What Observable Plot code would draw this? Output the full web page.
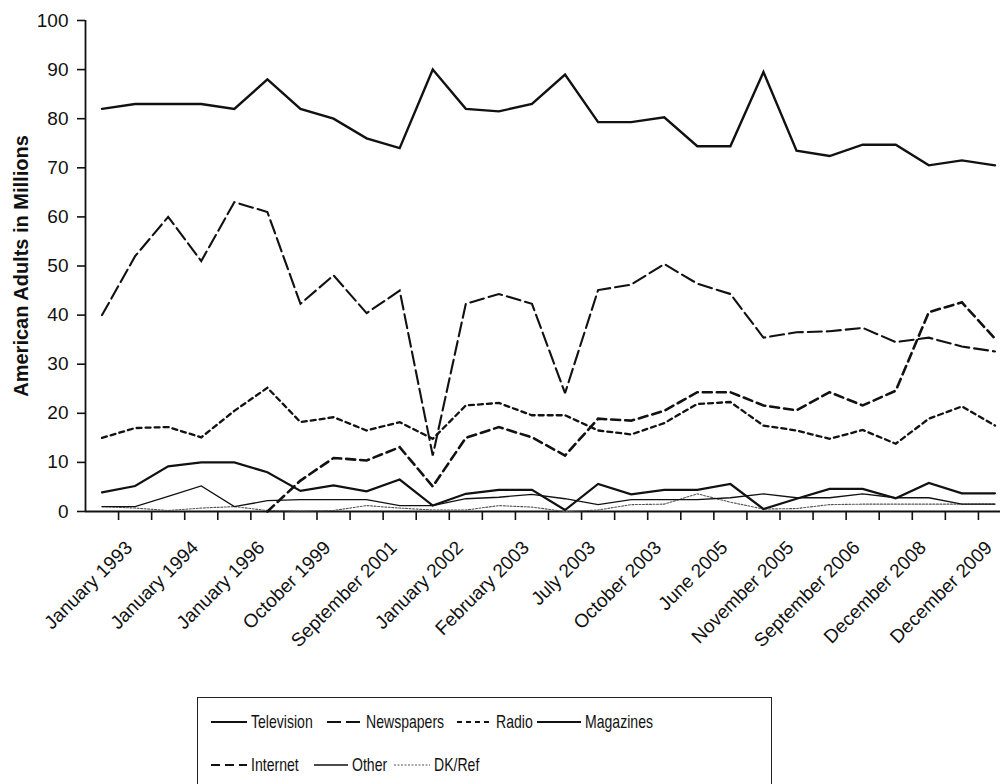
<!DOCTYPE html>
<html><head><meta charset="utf-8">
<script src="https://cdn.jsdelivr.net/npm/d3@7"></script>
<script src="https://cdn.jsdelivr.net/npm/@observablehq/plot@0.6"></script>
<style>
html,body{margin:0;padding:0;background:#fff;overflow:hidden;width:1000px;height:784px;}
#chart{position:absolute;left:0;top:0;}
#legend{position:absolute;left:197px;top:697px;width:575px;height:96px;border:1.6px solid #222;box-sizing:border-box;
  font-family:"Liberation Sans",Arial,sans-serif;font-size:18.5px;color:#111;}
.item{position:absolute;display:flex;align-items:center;height:22px;white-space:nowrap;}
.item svg{display:block;margin-right:4px;}
.item span{display:inline-block;transform:scaleX(0.76);transform-origin:0 50%;}
</style></head><body>
<div id="chart"></div><div id="legend"></div>
<script>
// Survey dates (only every other one is labelled on the axis)
const surveys = ["", "January 1993", "", "January 1994", "", "January 1996", "", "October 1999",
  "", "September 2001", "", "January 2002", "", "February 2003", "", "July 2003", "", "October 2003",
  "", "June 2005", "", "November 2005", "", "September 2006", "", "December 2008", "", "December 2009"];
const surveyIndex = [0,1,2,3,4,5,6,7,8,9,10,11,12,13,14,15,16,17,18,19,20,21,22,23,24,25,26,27];
const yTicks = [0,10,20,30,40,50,60,70,80,90,100];

const television = [82, 83, 83, 83, 82, 88, 82, 80, 76, 74, 90, 82, 81.5, 83, 89, 79.3, 79.3, 80.3, 74.4, 74.4, 89.5, 73.5, 72.4, 74.7, 74.7, 70.5, 71.5, 70.5];
const newspapers = [40, 52, 60, 51, 63, 61, 42.3, 48.1, 40.4, 45, 11.4, 42.3, 44.3, 42.3, 24.1, 45.1, 46.2, 50.4, 46.4, 44.3, 35.4, 36.5, 36.7, 37.4, 34.5, 35.4, 33.6, 32.6];
const radio = [15, 17, 17.2, 15.1, 20.5, 25.2, 18.2, 19.2, 16.5, 18.2, 14.8, 21.6, 22.1, 19.6, 19.6, 16.5, 15.7, 18, 21.9, 22.3, 17.5, 16.5, 14.8, 16.6, 13.8, 18.9, 21.4, 17.5];
const magazines = [3.9, 5.2, 9.2, 10, 10, 8, 4.2, 5.3, 4.1, 6.5, 1.2, 3.6, 4.4, 4.4, 0.3, 5.6, 3.5, 4.4, 4.4, 5.6, 0.5, 2.6, 4.6, 4.6, 2.7, 5.8, 3.7, 3.7];
const internet = [null, null, null, null, null, 0, 6.3, 10.9, 10.4, 13.1, 5.1, 15, 17.2, 15.1, 11.4, 18.9, 18.5, 20.5, 24.3, 24.3, 21.6, 20.6, 24.3, 21.6, 24.6, 40.6, 42.6, 35.2];
const other = [1, 1, 3.1, 5.2, 1, 2.2, 2.4, 2.4, 2.4, 1.2, 1.2, 2.6, 2.9, 3.5, 2.6, 1.4, 2.4, 2.4, 2.4, 2.8, 3.6, 2.8, 2.8, 3.6, 2.8, 2.8, 1.5, 1.5];
const dkRef = [1, 0.7, 0.2, 0.7, 1, 0.2, 0.1, 0.2, 1.2, 0.7, 0.3, 0.3, 1.2, 0.9, 0, 0.3, 1.4, 1.5, 3.6, 1.9, 0.5, 0.6, 1.4, 1.5, 1.5, 1.5, 1.5, 1.5];

const seriesNames = ["Television", "Newspapers", "Radio", "Magazines", "Internet", "Other", "DK/Ref"];
const seriesValues = [television, newspapers, radio, magazines, internet, other, dkRef];
const yTitle = "American Adults in Millions";

// styles
const styles = {
  "Television": {stroke: "#111", strokeWidth: 2.4, strokeDasharray: null},
  "Newspapers": {stroke: "#111", strokeWidth: 2.1, strokeDasharray: "14,5"},
  "Radio":      {stroke: "#111", strokeWidth: 2.3, strokeDasharray: "5,4"},
  "Magazines":  {stroke: "#111", strokeWidth: 2.2, strokeDasharray: null},
  "Internet":   {stroke: "#111", strokeWidth: 2.6, strokeDasharray: "9,5"},
  "Other":      {stroke: "#111", strokeWidth: 1.3, strokeDasharray: null},
  "DK/Ref":     {stroke: "#555", strokeWidth: 1.1, strokeDasharray: "2,1.5"}
};
// legend layout inside the box: [left, row, sample width]
const legendLayout = {
  "Television": [13, 0, 36], "Newspapers": [129, 0, 35], "Radio": [259, 0, 35], "Magazines": [339, 0, 44],
  "Internet": [13, 1, 36], "Other": [116, 1, 34], "DK/Ref": [196, 1, 36]
};

const rows = [];
seriesNames.forEach((name, s) => seriesValues[s].forEach((v, i) => {
  if (v != null) rows.push({series: name, i: surveyIndex[i], value: v});
}));

const boundaries = surveyIndex.map(i => i + 0.5);
const labelled = surveyIndex.filter(i => surveys[i] !== "");

const lineMarks = seriesNames.slice().reverse().map(name => Plot.line(rows.filter(r => r.series === name), {
  x: "i", y: "value", stroke: styles[name].stroke, strokeWidth: styles[name].strokeWidth,
  strokeDasharray: styles[name].strokeDasharray || undefined, strokeLinejoin: "miter", strokeMiterlimit: 3
}));

const chart = Plot.plot({
  width: 1000, height: 680,
  marginLeft: 85, marginRight: -11, marginTop: 20, marginBottom: 169,
  style: {fontFamily: "'Liberation Sans', Arial, sans-serif", fontSize: "19px", color: "#111", background: "transparent", overflow: "hidden"},
  x: {type: "linear", domain: [-0.5, 27.5]},
  y: {domain: [0, 100]},
  marks: [
    Plot.axisY({ticks: yTicks, tickSize: 8, tickPadding: 9, label: null, tickFormat: d => String(d), strokeWidth: 1.6, fontSize: 19}),
    Plot.axisX({ticks: boundaries, tickSize: 9, tickFormat: () => "", label: null, strokeWidth: 1.6}),
    Plot.axisX({ticks: labelled, tickSize: 0, tickPadding: 33, dx: -6, tickRotate: -45, tickFormat: i => surveys[i], label: null, fontSize: 19}),
    Plot.ruleX([-0.5], {stroke: "#111", strokeWidth: 1.8}),
    Plot.ruleY([0], {stroke: "#111", strokeWidth: 1.8}),
    ...lineMarks,
    Plot.text([yTitle], {frameAnchor: "left", rotate: -90, dx: -64, textAnchor: "middle", fontWeight: "bold", fontSize: 20, fill: "#111"})
  ]
});
document.getElementById("chart").appendChild(chart);

const legend = document.getElementById("legend");
seriesNames.forEach(name => {
  const [left, row, w] = legendLayout[name];
  const st = styles[name];
  const div = document.createElement("div");
  div.className = "item";
  div.style.left = left + "px";
  div.style.top = (row === 0 ? 13 : 56) + "px";
  div.innerHTML = `<svg width="${w}" height="6"><line x1="0" x2="${w}" y1="3" y2="3" stroke="${st.stroke}" stroke-width="${Math.min(st.strokeWidth, 2)}" ${st.strokeDasharray ? `stroke-dasharray="${st.strokeDasharray}"` : ""}/></svg><span>${name}</span>`;
  legend.appendChild(div);
});
</script>
</body></html>
